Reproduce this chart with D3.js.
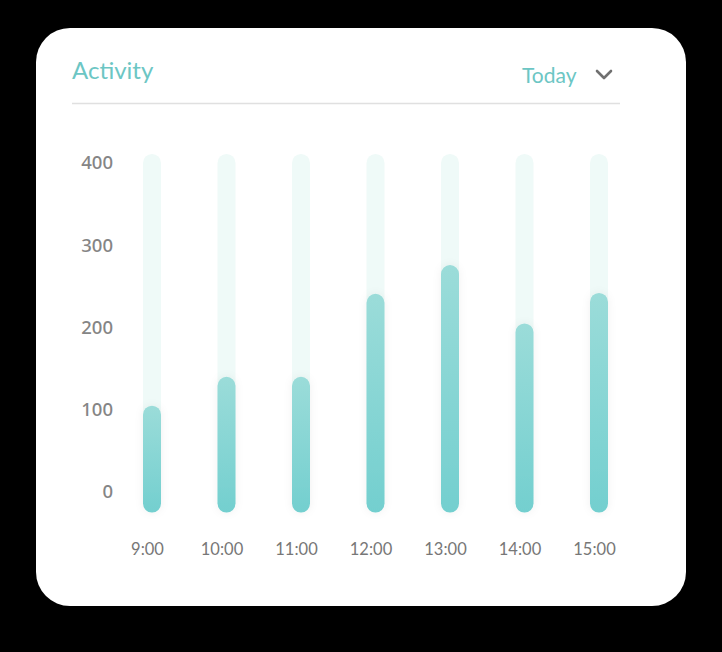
<!DOCTYPE html>
<html>
<head>
<meta charset="utf-8">
<script src="https://cdn.jsdelivr.net/npm/d3@7"></script>
<style>
  html, body { margin: 0; padding: 0; background: #000; }
  svg { display: block; }
</style>
</head>
<body>
<svg id="chart" width="722" height="652"></svg>
<script>
// data
var hours = ["9:00", "10:00", "11:00", "12:00", "13:00", "14:00", "15:00"];
var activity = [105, 140, 140, 241, 276, 205, 242];
var yTicks = [0, 100, 200, 300, 400];

var svg = d3.select("#chart");

var defs = svg.append("defs");
var grad = defs.append("linearGradient")
  .attr("id", "barGrad")
  .attr("x1", 0).attr("y1", 0).attr("x2", 0).attr("y2", 1);
grad.append("stop").attr("offset", "0%").attr("stop-color", "#9bdcd9");
grad.append("stop").attr("offset", "100%").attr("stop-color", "#73cfcf");

var glow = defs.append("filter").attr("id", "glow")
  .attr("x", "-80%").attr("y", "-20%").attr("width", "260%").attr("height", "140%");
glow.append("feGaussianBlur").attr("in", "SourceAlpha").attr("stdDeviation", 4).attr("result", "b");
glow.append("feFlood").attr("flood-color", "#000").attr("flood-opacity", 0.06);
glow.append("feComposite").attr("in2", "b").attr("operator", "in");
var merge = glow.append("feMerge");
merge.append("feMergeNode");
merge.append("feMergeNode").attr("in", "SourceGraphic");

// card
svg.append("rect")
  .attr("x", 36).attr("y", 28)
  .attr("width", 650).attr("height", 578)
  .attr("rx", 34).attr("ry", 34)
  .attr("fill", "#fff");

svg.append("text")
  .attr("x", 72).attr("y", 79)
  .attr("font-family", "Lato, sans-serif")
  .attr("font-size", 24)
  .attr("fill", "#6cc6c4")
  .text("Activity");

svg.append("text")
  .attr("x", 522).attr("y", 83)
  .attr("font-family", "Lato, sans-serif")
  .attr("font-size", 21)
  .attr("fill", "#6cc6c4")
  .text("Today");

svg.append("path")
  .attr("d", "M597,71 L604,78 L611,71")
  .attr("fill", "none")
  .attr("stroke", "#707070")
  .attr("stroke-width", 2.6)
  .attr("stroke-linecap", "round")
  .attr("stroke-linejoin", "round");

svg.append("line")
  .attr("x1", 72).attr("x2", 620)
  .attr("y1", 103.5).attr("y2", 103.5)
  .attr("stroke", "#e0e0e0")
  .attr("stroke-width", 1.5);

// scales
var xScale = d3.scalePoint()
  .domain(hours)
  .range([152, 599]);

var yScale = d3.scaleLinear()
  .domain([0, 400])
  .range([492, 163]);

var barW = 18;
var bottom = yScale(-25);
var trackTop = yScale(411);

// y axis
var yAxis = svg.append("g")
  .attr("transform", "translate(113,0)")
  .call(d3.axisLeft(yScale).tickValues(yTicks).tickSize(0).tickPadding(0));
yAxis.select(".domain").remove();
yAxis.selectAll("text")
  .attr("font-family", "'Noto Sans', sans-serif")
  .attr("font-weight", 500)
  .attr("font-size", 18.5)
  .attr("fill", "#858585");

// x axis
var xAxis = svg.append("g")
  .attr("transform", "translate(-5," + (bottom + 31) + ")")
  .call(d3.axisBottom(xScale).tickSize(0).tickPadding(0));
xAxis.select(".domain").remove();
xAxis.selectAll("text")
  .attr("font-family", "Lato, sans-serif")
  .attr("font-size", 16.5)
  .attr("fill", "#777");

// tracks
svg.append("g").selectAll("rect")
  .data(hours)
  .enter()
  .append("rect")
    .attr("x", function(d) { return xScale(d) - barW / 2; })
    .attr("y", trackTop)
    .attr("width", barW)
    .attr("height", bottom - trackTop)
    .attr("rx", barW / 2)
    .attr("fill", "#effaf8");

// bars
svg.append("g").selectAll("rect")
  .data(activity)
  .enter()
  .append("rect")
    .attr("x", function(d, i) { return xScale(hours[i]) - barW / 2; })
    .attr("y", function(d) { return yScale(d); })
    .attr("width", barW)
    .attr("height", function(d) { return bottom - yScale(d); })
    .attr("rx", barW / 2)
    .attr("fill", "url(#barGrad)")
    .attr("filter", "url(#glow)");
</script>
</body>
</html>
